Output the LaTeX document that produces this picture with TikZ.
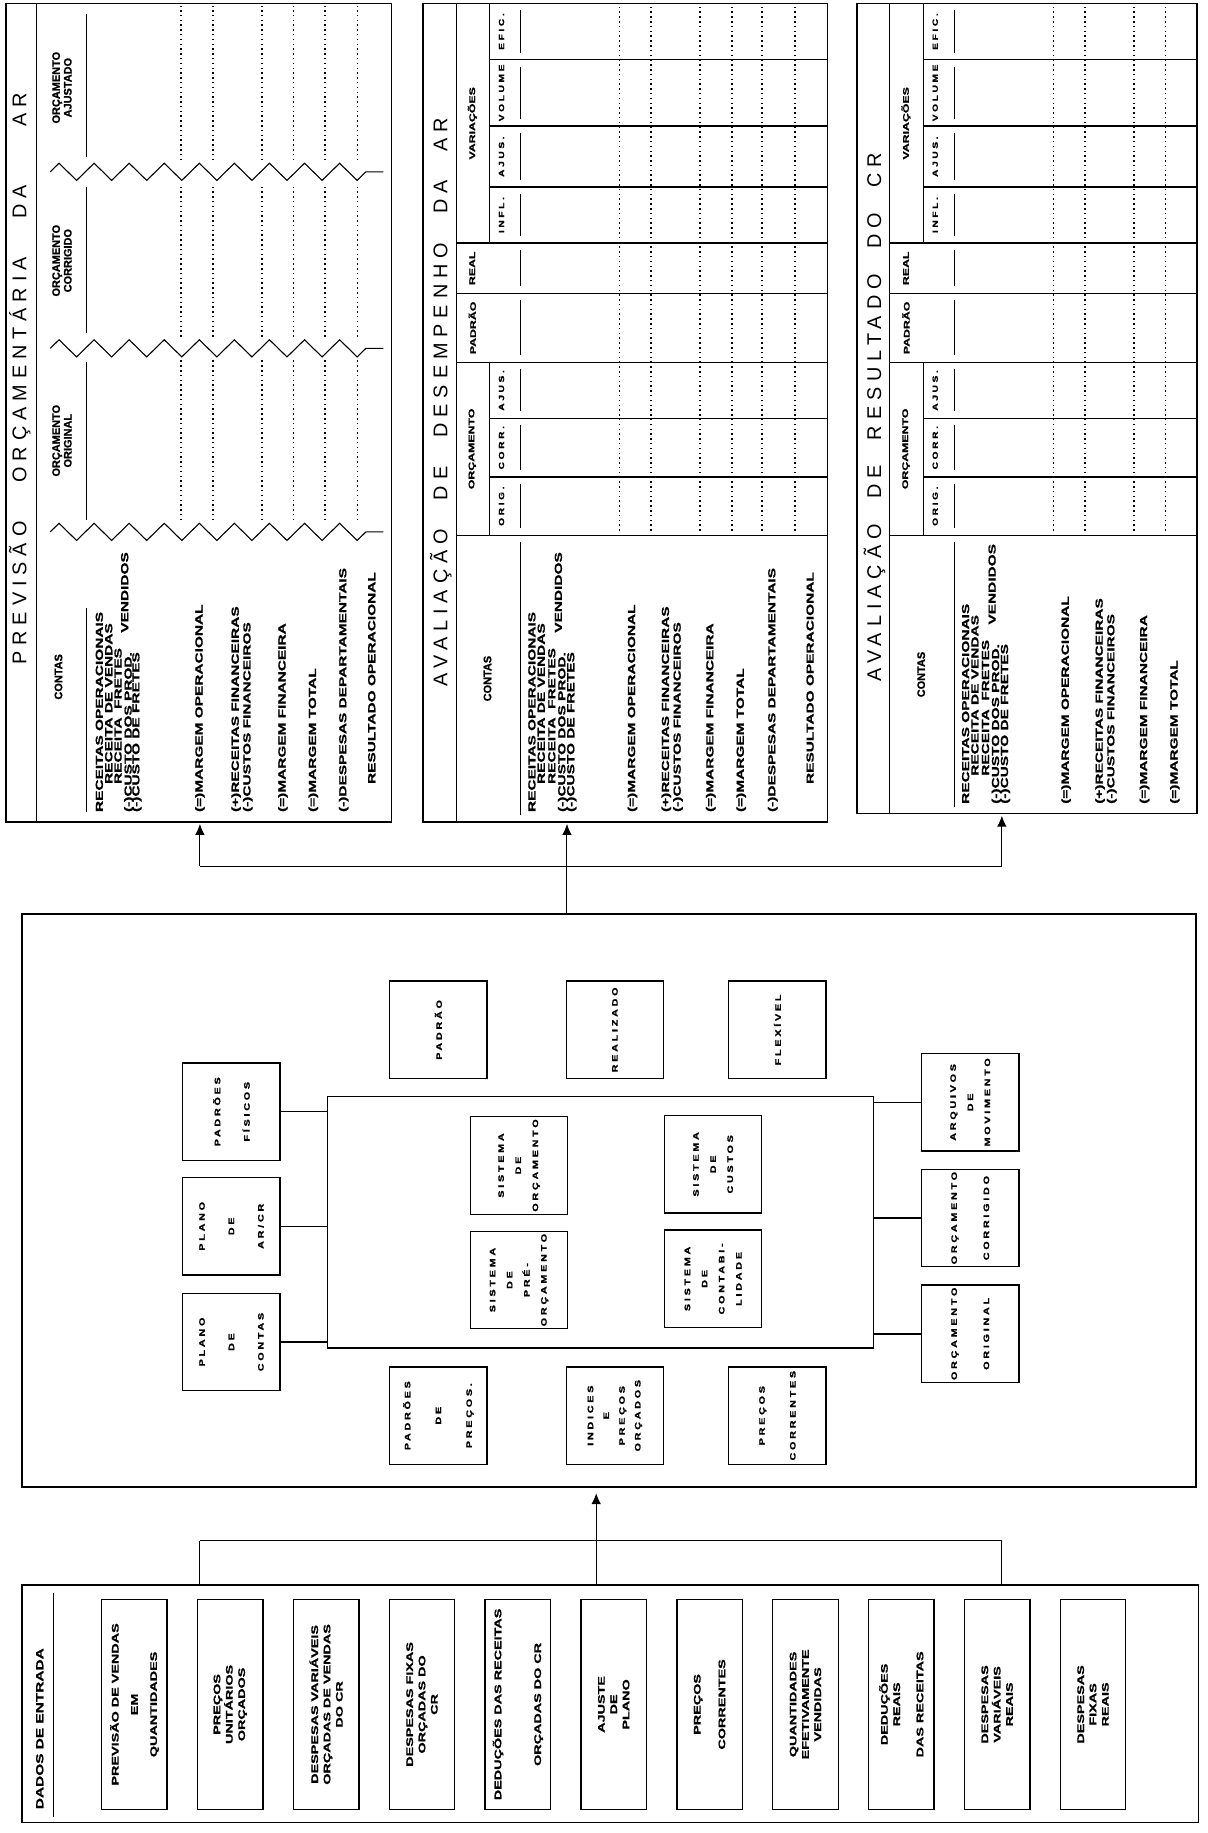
\documentclass[tikz,border=0pt]{standalone}
\usepackage{fontspec}
\usetikzlibrary{arrows.meta,decorations.pathmorphing}
\newfontfamily\tabfont{Liberation Sans}[FakeStretch=1.5,FakeBold=1.2]
\newfontfamily\boxfont{Liberation Sans}[FakeStretch=1.35,LetterSpace=35,FakeBold=1.5]
\newfontfamily\hdrfont{Liberation Sans}[FakeBold=1]
\newfontfamily\ttlfont{Liberation Sans}[LetterSpace=30]

\begin{document}
\begin{tikzpicture}[
    x=0.03cm, y=0.03cm, rotate=90, transform shape,
    >={Latex[length=8pt,width=7pt]},
    line width=0.7pt,
    panel/.style={draw, line width=1.1pt, inner sep=0pt},
    sep/.style={line width=1.1pt},
    hl/.style={line width=0.6pt},
    dotline/.style={line width=1.1pt, dash pattern=on 1.1pt off 2.4pt},
    zz/.style={line width=0.8pt, decorate, decoration={zigzag, segment length=0.9cm, amplitude=0.22cm}},
    ttl/.style={inner sep=0pt, font=\ttlfont\fontsize{14.5}{15}\selectfont},
    acct/.style={anchor=west, inner sep=0pt, font=\tabfont\bfseries\fontsize{7.5}{8}\selectfont},
    hdr/.style={inner sep=0pt, align=center, font=\hdrfont\bfseries\fontsize{8}{8.5}\selectfont},
    grp/.style={inner sep=0pt, font=\tabfont\bfseries\fontsize{6}{7}\selectfont},
    subh/.style={inner sep=0pt, font=\boxfont\bfseries\fontsize{5.5}{6}\selectfont},
    inbox/.style={draw, line width=1pt, minimum width=5.4cm, minimum height=1.68cm, inner sep=1pt, align=center, font=\tabfont\bfseries\fontsize{7}{9}\selectfont},
    sysbox/.style={draw, line width=1pt, minimum width=2.5cm, minimum height=2.5cm, inner sep=1pt, align=center, font=\boxfont\bfseries\fontsize{5.8}{12.5}\selectfont}
  ]
  \useasboundingbox (0,0) rectangle (1568,-1033);

  % tables
  \node[panel, minimum width=21cm, minimum height=9.9cm] (t1) at (1215,-170) {};
  \node[panel, minimum width=21cm, minimum height=10.38cm] (t2) at (1215,-535) {};
  \node[panel, minimum width=20.79cm, minimum height=8.73cm] (t3) at (1218.5,-878.5) {};

  \node[ttl] (t1ttl) at (1244,-17) {\makebox[14.67cm][s]{PREVISÃO ORÇAMENTÁRIA DA\hspace{1.5cm}AR}};
  \node[ttl] (t2ttl) at (1224,-377) {\makebox[14.58cm][s]{AVALIAÇÃO DE DESEMPENHO DA AR}};
  \node[ttl] (t3ttl) at (1211,-748) {\makebox[13.56cm][s]{AVALIAÇÃO DE RESULTADO DO CR}};

  % previsao orcamentaria
  \draw[hl] (865,-31) -- (1565,-31);
  \foreach \u in {1113,1270,1421}
    \draw[zz] (\u,-43) -- (\u,-328);
  \node[hdr] (t1h1) at (989,-50) {CONTAS};
  \node[hdr] (t1h2) at (1191,-53) {ORÇAMENTO\\ORIGINAL};
  \node[hdr] (t1h3) at (1345,-53) {ORÇAMENTO\\CORRIGIDO};
  \node[hdr] (t1h4) at (1493,-53) {ORÇAMENTO\\AJUSTADO};
  \foreach \a/\c in {873/1048,1123/1258,1283/1408,1434/1556}
    \draw[hl] (\a,-74) -- (\c,-74);
  \foreach \v/\d/\t [count=\k] in {85/0/{RECEITAS OPERACIONAIS}, 93/24/{RECEITA DE VENDAS},
      101/24/{RECEITA\ \ FRETES}, 109/0/{(-)CUSTO DOS PROD.\hspace{0.5cm}\raisebox{2.5pt}{VENDIDOS}},
      117/0/{(-)CUSTO DE FRETES}, 171/0/{(=)MARGEM OPERACIONAL}, 202/0/{(+)RECEITAS FINANCEIRAS},
      212/0/{(-)CUSTOS FINANCEIROS}, 242/0/{(=)MARGEM FINANCEIRA}, 268/0/{(=)MARGEM TOTAL},
      294/0/{(-)DESPESAS DEPARTAMENTAIS}, 318/24/{RESULTADO OPERACIONAL}}
    \node[acct] (t1r\k) at (873+\d,-\v) {\t};
  \foreach \v in {155,182,224,251,278,306}
    \foreach \a/\c in {1123/1260,1280/1411,1431/1563}
      \draw[dotline] (\a,-\v) -- (\c,-\v);

  % avaliacao tables
  \foreach \o/\b/\l/\n in {362/708/865/t2, 733/1024/872/t3} {
    \draw[hl] (\l,-\o-28) -- (1565,-\o-28);
    \foreach \u in {1110,1258,1317,1360}
      \draw[sep] (\u,-\o-28) -- (\u,-\b);
    \foreach \u in {1160,1210,1408,1460,1517}
      \draw[sep] (\u,-\o-57) -- (\u,-\b);
    \draw[hl] (1110,-\o-57) -- (1258,-\o-57);
    \draw[hl] (1360,-\o-57) -- (1565,-\o-57);
    \foreach \a/\c in {\l/1110,1110/1160,1160/1210,1210/1258,1258/1317,1317/1360,1360/1408,1408/1460,1460/1517,1517/1565}
      \draw[hl] (\a+6,-\o-83) -- (\c-6,-\o-83);
    \node[hdr] (\n-contas) at ({(\l+1110)/2},-\o-55) {CONTAS};
    \node[grp] (\n-orc) at (1184,-\o-42) {ORÇAMENTO};
    \node[grp] (\n-pad) at (1287.5,-\o-42) {PADRÃO};
    \node[grp] (\n-real) at (1338.5,-\o-42) {REAL};
    \node[grp] (\n-var) at (1462.5,-\o-42) {VARIAÇÕES};
    \foreach \u/\t [count=\k] in {1135/ORIG., 1185/CORR., 1234/AJUS., 1384/INFL., 1434/AJUS., 1488.5/VOLUME, 1541/EFIC.}
      \node[subh] (\n-s\k) at (\u,-\o-67) {\t};
    \foreach \v/\d/\t [count=\k] in {93/0/{RECEITAS OPERACIONAIS}, 101/24/{RECEITA DE VENDAS},
        110/24/{RECEITA\ \ FRETES}, 118/0/{(-)CUSTO DOS PROD.\hspace{0.5cm}\raisebox{2.5pt}{VENDIDOS}},
        127/0/{(-)CUSTO DE FRETES}, 179/0/{(=)MARGEM OPERACIONAL}, 208/0/{(+)RECEITAS FINANCEIRAS},
        218/0/{(-)CUSTOS FINANCEIROS}, 246/0/{(=)MARGEM FINANCEIRA}, 272/0/{(=)MARGEM TOTAL}}
      \node[acct] (\n-r\k) at (\l+8+\d,-\o-\v) {\t};
    \foreach \v in {168,195,237,264}
      \draw[dotline] (1114,-\o-\v) -- (1563,-\o-\v);
  }
  \node[acct] (t2-r11) at (873,-661) {(-)DESPESAS DEPARTAMENTAIS};
  \node[acct] (t2-r12) at (897,-693) {RESULTADO OPERACIONAL};
  \foreach \v in {652,680}
    \draw[dotline] (1114,-\v) -- (1563,-\v);

  % sistema
  \node[panel, minimum width=14.7cm, minimum height=30.12cm] (mid) at (541,-521) {};
  \node[draw, line width=1pt, minimum width=6.45cm, minimum height=14.01cm] (sys) at (522.5,-513.5) {};
  \node[sysbox] (so) at (571,-444) {SISTEMA\\DE\\ORÇAMENTO};
  \node[sysbox] (sp) at (473,-444) {SISTEMA\\DE\\PRÉ-\\ORÇAMENTO};
  \node[sysbox] (sc) at (572,-610) {SISTEMA\\DE\\CUSTOS};
  \node[sysbox] (sb) at (474,-610) {SISTEMA\\DE\\CONTABI-\\LIDADE};

  \node[sysbox] (pf) at (617,-198) {PADRÕES\\[9pt]FÍSICOS};
  \node[sysbox] (pa) at (519,-198) {PLANO\\[9pt]DE\\[9pt]AR/CR};
  \node[sysbox] (pc) at (420,-198) {PLANO\\[9pt]DE\\[9pt]CONTAS};

  \node[sysbox] (am) at (625,-830) {ARQUIVOS\\DE\\MOVIMENTO};
  \node[sysbox] (oc) at (526,-830) {ORÇAMENTO\\[11pt]CORRIGIDO};
  \node[sysbox] (oo) at (427,-830) {ORÇAMENTO\\[11pt]ORIGINAL};

  \node[sysbox] (pd) at (687,-375) {PADRÃO};
  \node[sysbox] (re) at (687,-526) {REALIZADO};
  \node[sysbox] (fl) at (687,-665) {FLEXÍVEL};

  \node[sysbox] (pp) at (357,-375) {PADRÕES\\[10pt]DE\\[10pt]PREÇOS.};
  \node[sysbox] (ip) at (357,-526) {INDICES\\[-1pt]E\\[-1pt]PREÇOS\\[-1pt]ORÇADOS};
  \node[sysbox] (pr) at (357,-665) {PREÇOS\\[10pt]CORRENTES};

  \foreach \b in {pf,pa,pc}
    \draw[line width=1pt] (\b.south) -- (\b.south |- sys.north);
  \foreach \b in {am,oc,oo}
    \draw[line width=1pt] (\b.north) -- (\b.north |- sys.south);

  % dados de entrada
  \node[panel, minimum width=6.09cm, minimum height=30.18cm] (dad) at (110.5,-522) {};
  \node[acct] (dadt) at (20,-34) {DADOS DE ENTRADA};
  \draw[hl] (14,-46) -- (205,-46);
  \foreach \t [count=\k] in {{PREVISÃO DE VENDAS\\[5pt]EM\\[5pt]QUANTIDADES}, {PREÇOS\\UNITÁRIOS\\ORÇADOS},
      {DESPESAS VARIÁVEIS\\ORÇADAS DE VENDAS\\DO CR}, {DESPESAS FIXAS\\ORÇADAS DO\\CR},
      {DEDUÇÕES DAS RECEITAS\\[20pt]ORÇADAS DO CR}, {AJUSTE\\DE\\PLANO}, {PREÇOS\\[9pt]CORRENTES},
      {QUANTIDADES\\EFETIVAMENTE\\VENDIDAS}, {DEDUÇÕES\\REAIS\\[8pt]DAS RECEITAS},
      {DESPESAS\\VARIÁVEIS\\REAIS}, {DESPESAS\\FIXAS\\REAIS}}
    \node[inbox] (d\k) at (110,{-33-82*\k}) {\t};

  % ligacoes
  \coordinate (bl) at (827,-171);
  \coordinate (br) at (827,-857);
  \coordinate (bm) at (827,-485);
  \draw (bl) -- (br);
  \draw[->, shorten >=1pt] (bl) -- (t1.west |- bl);
  \draw[->, shorten >=1pt] (br) -- (t3.west |- br);
  \draw[->, shorten >=1pt] (mid.east |- bm) -- (t2.west |- bm);

  \coordinate (cl) at (250,-171);
  \coordinate (cr) at (250,-857);
  \coordinate (cm) at (250,-510);
  \draw (cl) -- (cr);
  \draw (cl) -- (dad.east |- cl);
  \draw (cr) -- (dad.east |- cr);
  \draw[->, shorten >=4pt] (dad.east |- cm) -- (mid.west |- cm);
\end{tikzpicture}
\end{document}
